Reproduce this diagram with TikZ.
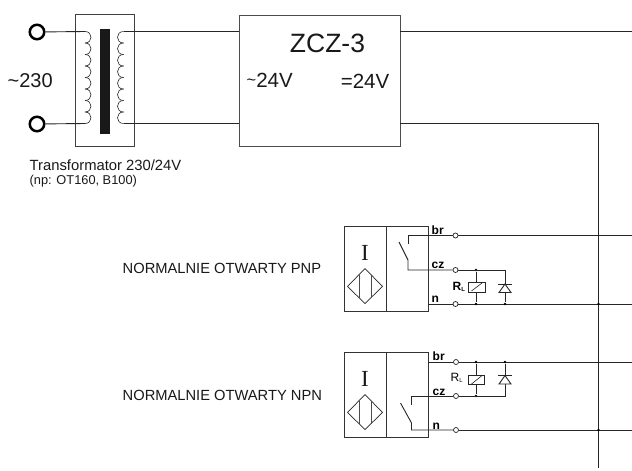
\documentclass[tikz,border=0pt]{standalone}
\usepackage{fontspec}
\setmainfont{Liberation Sans}
\newfontfamily\serifI{Liberation Serif}
\tikzset{
  wire/.style={line width=0.9pt,draw=black!85},
  boxline/.style={line width=0.8pt,draw=black!75},
  sensorbox/.style={line width=1pt,draw=black!80},
  term/.style={circle,draw=black,fill=white,line width=2.5pt,minimum size=14.5pt,inner sep=0pt},
  smallterm/.style={circle,draw=black!85,fill=white,line width=0.7pt,minimum size=5pt,inner sep=0pt},
  dot/.style={circle,fill=black,minimum size=2.8pt,inner sep=0pt},
  lbl/.style={inner sep=0pt,text=black!90},
  pin/.style={inner sep=0pt,font=\fontsize{12}{12}\selectfont\bfseries},
  rl/.style={inner sep=0pt,font=\fontsize{12}{12}\selectfont\bfseries},
}
\newcommand{\sensorbody}[1]{% y offset of box top
  \node[lbl,font=\serifI\fontsize{23}{23}\selectfont] at (365,#1+26) {I};
  \draw[line width=0.7pt,draw=black!85] (347.5,#1+60) -- (365,#1+42) -- (382.5,#1+60) -- (365,#1+77) -- cycle;
  \draw[line width=0.7pt,draw=black!70] (359.5,#1+48) -- (359.5,#1+71.5) (371,#1+48) -- (371,#1+71.5);
}
\begin{document}
\begin{tikzpicture}[x=1pt,y=-1pt]
\useasboundingbox (0,0) rectangle (632,471);
\fill[white] (0,0) rectangle (632,471);
% transformer
\draw[boxline] (75,14.5) rectangle (134,146);
\fill[black!90] (99.5,29) rectangle (109.5,133.5);
\node[term] (t1) at (37,32) {};
\node[term] (t2) at (37,124) {};
\coordinate (c1a) at (85,31.5);
\coordinate (c1b) at (85,123.5);
\coordinate (c2a) at (123.5,31.5);
\coordinate (c2b) at (123.5,123.5);
\draw[wire] (t1) -- (c1a);
\draw[wire] (t2) -- (c1b);
\foreach \x/\s in {85/1,123.5/-1}{
 \foreach \k in {0,...,7}{
  \draw[line width=0.6pt,black!85] (\x,31.5+\k*11.5) .. controls (\x+\s*8,31.5+\k*11.5) and (\x+\s*8,43+\k*11.5) .. (\x,43+\k*11.5);
 }
}
% ZCZ
\node[draw=black!70,line width=0.9pt,minimum width=161pt,minimum height=131pt,inner sep=0pt] (zcz) at (319.5,80.5) {};
\coordinate (zl1) at (239,31.5);
\coordinate (zl2) at (239,123.5);
\coordinate (zr1) at (400,31);
\coordinate (zr2) at (400,123.5);
\draw[wire] (c2a) -- (zl1);
\draw[wire] (c2b) -- (zl2);
\coordinate (e1) at (632,31);
\coordinate (bus) at (598.5,123.5);
\coordinate (busend) at (598.5,468);
\draw[wire] (zr1) -- (e1);
\draw[wire] (zr2) -- (bus) -- (busend);
\node[lbl,font=\fontsize{26.5}{27}\selectfont] at (327.5,43.5) {ZCZ-3};
\node[lbl,font=\fontsize{20.5}{21}\selectfont,anchor=west] at (246.5,80.5) {\raisebox{2pt}{\scalebox{.8}{\char`~}}24V};
\node[lbl,font=\fontsize{20.5}{21}\selectfont,anchor=east] at (389.5,81.5) {=24V};
\node[lbl,font=\fontsize{20}{20}\selectfont,anchor=west] at (7.5,81) {\char`~230};
\node[lbl,font=\fontsize{14.8}{15}\selectfont,anchor=west] at (29.5,165) {Transformator 230/24V};
\node[lbl,font=\fontsize{12.8}{13}\selectfont,anchor=west] at (29.5,181) {(np: OT160, B100)};
% sensor 1
\node[lbl,font=\fontsize{14.7}{15}\selectfont,anchor=west] at (122.5,268) {NORMALNIE OTWARTY PNP};
\draw[sensorbox] (344,226.5) rectangle (428,311) (386,226.5) -- (386,311);
\sensorbody{226.5}
\node[smallterm] (br1) at (455.5,235.5) {};
\node[smallterm] (cz1) at (455.5,270) {};
\node[smallterm] (n1) at (455.5,304) {};
\coordinate (br1s) at (428,235.5);
\coordinate (n1s) at (428,304);
\draw[wire] (br1s) -- (br1);
\draw[wire] (br1) -- (632,235.5);
\draw[wire] (n1s) -- (n1);
\draw[wire] (n1) -- (632,304);
\draw[wire] (408,244) -- (408,235.5) -- (br1s);
\draw[wire] (399,242) -- (408,260) -- (408,270) -- (cz1);
\node[dot] (j1) at (476,270) {};
\node[dot] (j2) at (476,304) {};
\node[dot] (j3) at (505,304) {};
\node[dot] (j4) at (598.5,304) {};
\draw[wire] (cz1) -- (505,270) -- (j3);
\draw[wire] (j1) -- (j2);
\draw[wire,fill=white] (468.5,282) rectangle (485,292);
\draw[wire,line width=0.6pt] (471.5,291) -- (482,283);
\draw[wire,fill=white] (505,284) -- (499,292.5) -- (511,292.5) -- cycle;
\draw[wire] (498,284) -- (512,284);
\node[pin,anchor=base west] at (431.5,234) {br};
\node[pin,anchor=base west] at (431.5,268.5) {cz};
\node[pin,anchor=base west] at (431.5,302.5) {n};
\node[rl,anchor=west] at (452.5,287) {R\raisebox{-1pt}{\fontsize{6}{6}\selectfont L}};
% sensor 2
\node[lbl,font=\fontsize{14.7}{15}\selectfont,anchor=west] at (122.5,395.5) {NORMALNIE OTWARTY NPN};
\draw[sensorbox] (344,352.5) rectangle (428,437) (386.5,352.5) -- (386.5,437);
\sensorbody{352.5}
\node[smallterm] (br2) at (456,362) {};
\node[smallterm] (cz2) at (456,396) {};
\node[smallterm] (n2) at (456,430) {};
\coordinate (br2s) at (428,362);
\draw[wire] (br2s) -- (br2);
\draw[wire] (br2) -- (632,362);
\draw[wire] (411.5,405) -- (411.5,396) -- (cz2);
\draw[wire] (400.5,403) -- (411.5,423) -- (411.5,430) -- (n2);
\draw[wire] (n2) -- (632,430);
\node[dot] (k1) at (476,362) {};
\node[dot] (k2) at (505,362) {};
\node[dot] (k3) at (476,396) {};
\node[dot] (k4) at (598.5,430) {};
\draw[wire] (cz2) -- (505,396) -- (k2);
\draw[wire] (k1) -- (k3);
\draw[wire,fill=white] (468.5,375) rectangle (484.5,384.5);
\draw[wire,line width=0.6pt] (471.5,384) -- (481.5,376);
\draw[wire,fill=white] (505,375.5) -- (499,384) -- (511,384) -- cycle;
\draw[wire] (498,375.5) -- (512,375.5);
\node[pin,anchor=base west] at (432.5,360.5) {br};
\node[pin,anchor=base west] at (432.5,395) {cz};
\node[pin,anchor=base west] at (432.5,429) {n};
\node[rl,anchor=west,font=\fontsize{12}{12}\selectfont] at (450.5,378) {R\raisebox{-1pt}{\fontsize{6}{6}\selectfont L}};
\end{tikzpicture}
\end{document}
